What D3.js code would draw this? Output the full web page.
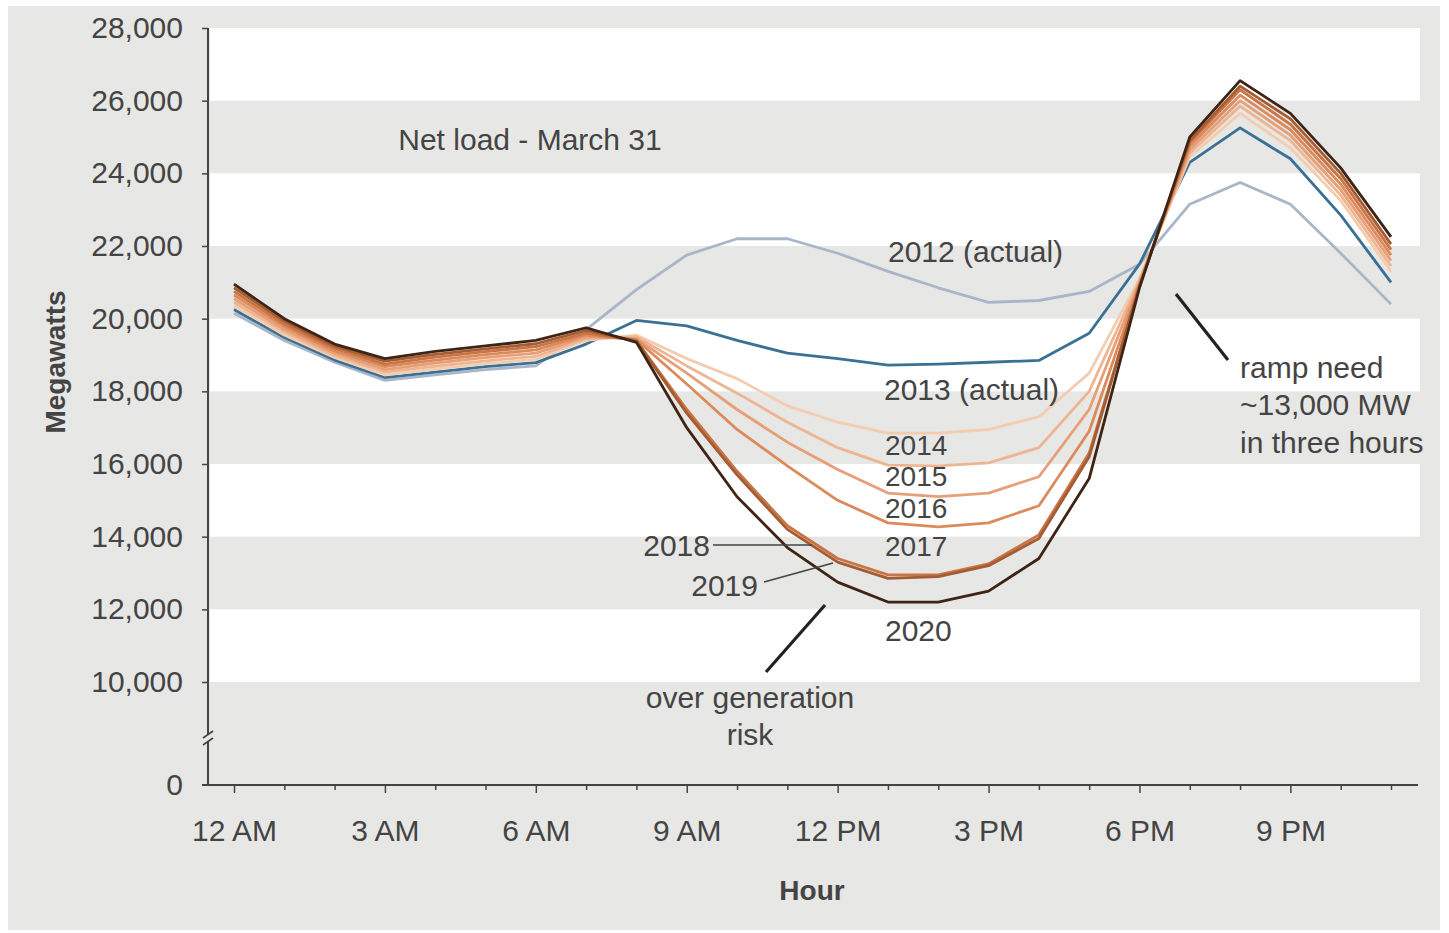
<!DOCTYPE html>
<html>
<head>
<meta charset="utf-8">
<script src="https://cdn.jsdelivr.net/npm/d3@7"></script>
<style>
  html, body { margin: 0; padding: 0; background: #ffffff; }
  svg { display: block; }
  text { font-family: "Liberation Sans", Arial, Helvetica, sans-serif; fill: #444; }
</style>
</head>
<body>
<svg id="chart" width="1449" height="933"></svg>
<script>
// ---------- DATA ----------
const hours = [0,1,2,3,4,5,6,7,8,9,10,11,12,13,14,15,16,17,18,19,20,21,22,23];
const xTickLabels = ["12 AM","3 AM","6 AM","9 AM","12 PM","3 PM","6 PM","9 PM"];
const yTickValues = [0,10000,12000,14000,16000,18000,20000,22000,24000,26000,28000];
const whiteBandStarts = [10000,14000,18000,22000,26000];
const years = ["2012","2013","2014","2015","2016","2017","2018","2019","2020"];

const load2012 = [20150,19400,18800,18300,18450,18600,18700,19700,20800,21750,22200,22200,21800,21300,20850,20450,20500,20750,21500,23150,23750,23150,21800,20400];
const load2013 = [20250,19480,18860,18380,18530,18680,18790,19300,19950,19800,19400,19050,18900,18720,18750,18800,18850,19600,21500,24300,25250,24400,22850,21000];
const load2014 = [20350,19550,18930,18450,18610,18760,18880,19400,19550,18900,18350,17600,17150,16850,16850,16950,17300,18500,21100,24450,25650,24700,23250,21300];
const load2015 = [20450,19630,18990,18530,18690,18840,18960,19450,19500,18700,17950,17150,16450,15970,15950,16030,16450,18000,21050,24550,25850,24900,23400,21450];
const load2016 = [20550,19700,19050,18600,18780,18930,19050,19500,19450,18500,17500,16600,15850,15200,15100,15200,15650,17500,21000,24650,26000,25050,23550,21600];
const load2017 = [20650,19780,19110,18680,18860,19010,19140,19550,19420,18200,16950,15950,15000,14380,14270,14380,14850,16900,20950,24750,26150,25200,23700,21750];
const load2018 = [20750,19850,19180,18750,18940,19090,19230,19600,19400,17500,15800,14300,13400,12950,12950,13250,14050,16300,20900,24850,26300,25350,23850,21900];
const load2019 = [20850,19930,19240,18830,19020,19170,19310,19680,19380,17400,15700,14200,13300,12850,12900,13200,13950,16200,20900,24900,26400,25500,24000,22050];
const load2020 = [20950,20000,19300,18900,19100,19250,19400,19750,19350,17000,15100,13700,12750,12200,12200,12500,13400,15600,20850,25000,26550,25650,24150,22250];

const seriesValues = [load2012,load2013,load2014,load2015,load2016,load2017,load2018,load2019,load2020];
const seriesColors = ["#a9b6c8","#3b7095","#f3cdb0","#eeb592","#e79f78","#dc8a5c","#c87444","#a55c32","#3d2414"];

// ---------- LAYOUT ----------
const svg = d3.select("#chart");
const bg = "#e7e7e5";
const plotLeft = 210, plotRight = 1420;
const axisX = 208, axisY = 785;

const x = d3.scaleLinear().domain([0, 23]).range([234, 1391]);
const y = d3.scaleLinear().domain([0, 10000, 28000]).range([785, 682, 28]);

// outer background
svg.append("rect").attr("x", 8).attr("y", 6).attr("width", 1432).attr("height", 924).attr("fill", bg);

// white bands
svg.append("g").selectAll("rect").data(whiteBandStarts).join("rect")
  .attr("x", plotLeft).attr("width", plotRight - plotLeft)
  .attr("y", d => y(d + 2000)).attr("height", d => y(d) - y(d + 2000))
  .attr("fill", "#ffffff");

// ---------- LINES ----------
const line = d3.line().x((d, i) => x(hours[i])).y(d => y(d));
svg.append("g").selectAll("path").data(seriesValues).join("path")
  .attr("d", d => line(d))
  .attr("fill", "none")
  .attr("stroke", (d, i) => seriesColors[i])
  .attr("stroke-width", 2.8)
  .attr("stroke-linejoin", "round");

// ---------- AXES ----------
const yAxis = d3.axisLeft(y).tickValues(yTickValues).tickSize(6).tickPadding(19)
  .tickFormat(d3.format(","));
const gy = svg.append("g").attr("transform", `translate(${axisX},0)`).call(yAxis);
gy.select(".domain").remove();
gy.selectAll(".tick line").attr("stroke", "#444").attr("stroke-width", 1.5)
  .filter(d => d === 0).remove();
gy.selectAll(".tick text").attr("font-size", 30).attr("fill", "#444")
  .style("font-family", "'Liberation Sans', Arial, sans-serif");

// y axis line with break
svg.append("line").attr("x1", axisX).attr("x2", axisX).attr("y1", y(28000)).attr("y2", 735)
  .attr("stroke", "#444").attr("stroke-width", 2);
svg.append("line").attr("x1", axisX).attr("x2", axisX).attr("y1", 741).attr("y2", axisY)
  .attr("stroke", "#444").attr("stroke-width", 2);
svg.append("line").attr("x1", 203).attr("y1", 738).attr("x2", 213).attr("y2", 731)
  .attr("stroke", "#444").attr("stroke-width", 1.6);
svg.append("line").attr("x1", 203).attr("y1", 745).attr("x2", 213).attr("y2", 738)
  .attr("stroke", "#444").attr("stroke-width", 1.6);

// x axis
const xAxis = d3.axisBottom(x).tickValues(hours).tickSize(8).tickPadding(27)
  .tickFormat(d => d % 3 === 0 ? xTickLabels[d / 3] : "");
const gx = svg.append("g").attr("transform", `translate(0,${axisY})`).call(xAxis);
gx.select(".domain").remove();
gx.selectAll(".tick line").attr("stroke", "#444").attr("stroke-width", 1.5)
  .attr("y2", d => d % 3 === 0 ? 8 : 5);
gx.selectAll(".tick text").attr("font-size", 30).attr("fill", "#444")
  .style("font-family", "'Liberation Sans', Arial, sans-serif");
svg.append("line").attr("x1", 202).attr("x2", 1418).attr("y1", axisY).attr("y2", axisY)
  .attr("stroke", "#444").attr("stroke-width", 2);

// axis titles
svg.append("text").attr("x", 812).attr("y", 900).attr("text-anchor", "middle")
  .attr("font-size", 28).attr("font-weight", "bold").attr("fill", "#333").text("Hour");
svg.append("text").attr("transform", "translate(65,362) rotate(-90)").attr("text-anchor", "middle")
  .attr("font-size", 28).attr("font-weight", "bold").attr("fill", "#333").text("Megawatts");

// ---------- ANNOTATIONS ----------
const ann = svg.append("g");
function label(tx, ty, str, anchor, size) {
  ann.append("text").attr("x", tx).attr("y", ty).attr("text-anchor", anchor || "start")
    .attr("font-size", size || 30).attr("fill", "#444").text(str);
}
label(530, 150, "Net load - March 31", "middle");
label(888, 262, "2012 (actual)");
label(884, 400, "2013 (actual)");
label(885, 455, "2014", "start", 28);
label(885, 486, "2015", "start", 28);
label(885, 518, "2016", "start", 28);
label(885, 556, "2017", "start", 28);
label(885, 641, "2020");
label(710, 556, "2018", "end");
label(758, 596, "2019", "end");
label(750, 708, "over generation", "middle");
label(750, 745, "risk", "middle");
label(1240, 378, "ramp need");
label(1240, 415, "~13,000 MW");
label(1240, 453, "in three hours");

// leader lines
svg.append("line").attr("x1", 713).attr("y1", 545).attr("x2", 812).attr("y2", 545)
  .attr("stroke", "#444").attr("stroke-width", 1.6);
svg.append("line").attr("x1", 764).attr("y1", 582).attr("x2", 833).attr("y2", 563)
  .attr("stroke", "#444").attr("stroke-width", 1.6);
svg.append("line").attr("x1", 825).attr("y1", 605).attr("x2", 766).attr("y2", 672)
  .attr("stroke", "#222").attr("stroke-width", 3.2);
svg.append("line").attr("x1", 1176).attr("y1", 294).attr("x2", 1228).attr("y2", 360)
  .attr("stroke", "#222").attr("stroke-width", 3.2);
</script>
</body>
</html>
